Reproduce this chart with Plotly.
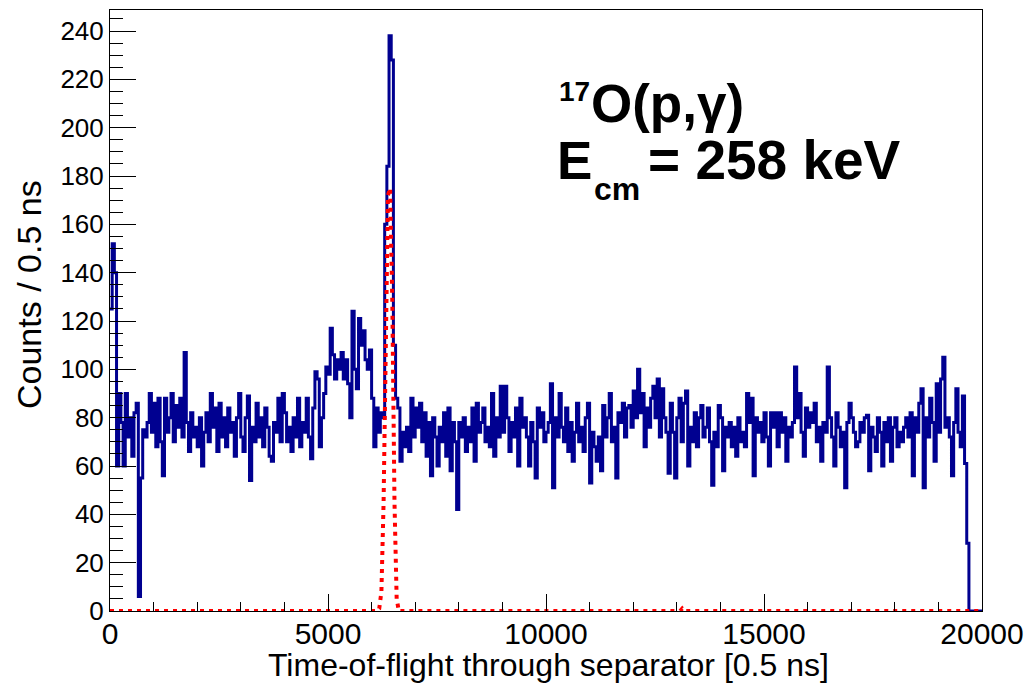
import plotly.graph_objects as go

# Histogram binning: 400 bins of width 50 over 0..20000 (units of 0.5 ns)
bin_width = 50
n_bins = 400

counts_a = [125, 152, 140, 60, 90, 78, 60, 90, 72, 80, 64, 82, 86, 6, 55, 75, 72, 78, 90, 74,
            86, 68, 88, 70, 56, 88, 74, 80, 90, 70, 85, 76, 88, 72, 107, 78, 66, 82, 72, 76,
            68, 80, 60, 74, 82, 70, 90, 76, 84, 66, 86, 72, 80, 68, 84, 74, 78, 64, 80, 90,
            72, 66, 80, 89, 54, 76, 70, 86, 72, 80, 68, 84, 76, 64, 62, 78, 74, 88, 70, 90,
            82, 70, 76, 66, 80, 72, 88, 68, 78, 74, 88, 72, 63, 84, 99, 96, 68, 80, 90, 101]
# bins 100-199
counts_b = [98, 117, 106, 96, 104, 100, 107, 96, 104, 94, 80, 124, 100, 92, 121, 110, 116, 104, 100, 108,
            88, 68, 84, 74, 82, 80, 160, 184, 238, 228, 110, 88, 84, 62, 74, 68, 76, 66, 88, 72,
            84, 76, 86, 70, 82, 64, 78, 56, 80, 72, 60, 76, 70, 82, 64, 84, 58, 78, 70, 42,
            78, 72, 80, 66, 76, 70, 84, 62, 86, 74, 78, 84, 70, 76, 68, 90, 64, 80, 72, 93,
            74, 93, 80, 66, 78, 72, 84, 60, 88, 76, 80, 72, 60, 78, 70, 55, 84, 76, 82, 70]
# bins 200-299
counts_c = [74, 78, 94, 51, 80, 72, 90, 76, 70, 84, 66, 78, 62, 74, 86, 70, 76, 66, 80, 86,
            53, 74, 68, 62, 72, 58, 85, 72, 80, 90, 70, 76, 55, 82, 78, 86, 72, 84, 85, 76,
            91, 80, 100, 82, 90, 68, 84, 76, 88, 93, 80, 96, 72, 92, 80, 74, 57, 86, 74, 55,
            80, 88, 70, 86, 91, 60, 76, 70, 82, 68, 80, 85, 72, 76, 84, 70, 52, 74, 68, 85,
            80, 58, 76, 72, 78, 68, 76, 64, 80, 70, 74, 68, 90, 78, 88, 56, 80, 74, 78, 70]
# bins 300-399
counts_d = [82, 72, 60, 82, 76, 82, 68, 82, 74, 80, 62, 76, 72, 78, 101, 80, 90, 74, 64, 84,
            76, 82, 78, 86, 70, 76, 62, 78, 74, 101, 80, 72, 60, 82, 76, 68, 74, 51, 78, 86,
            80, 74, 68, 70, 78, 74, 80, 81, 58, 76, 72, 66, 80, 74, 60, 78, 70, 80, 62, 76,
            80, 68, 74, 70, 76, 80, 72, 82, 56, 80, 74, 86, 92, 51, 80, 72, 88, 78, 62, 94,
            74, 96, 105, 76, 80, 72, 56, 78, 92, 74, 68, 89, 61, 28, 0, 0, 0, 0, 0, 0]

# Simulated peak (red dotted): non-zero bins only, zero elsewhere
sim_bins = [123, 124, 125, 126, 127, 128, 129, 130, 131, 262]
sim_counts = [1, 8, 45, 112, 172, 175, 128, 45, 5, 1]

# Axis ticks
x_ticks = [0, 5000, 10000, 15000, 20000]
y_ticks = list(range(0, 241, 20))

counts = counts_a + counts_b + counts_c + counts_d
edges = [i * bin_width for i in range(n_bins + 1)]
centers = [(i + 0.5) * bin_width for i in range(n_bins)]
sim = [0] * n_bins
for b, c in zip(sim_bins, sim_counts):
    sim[b] = c

fig = go.Figure()
fig.add_trace(go.Scatter(
    x=edges, y=counts + [counts[-1]], mode="lines", cliponaxis=False,
    line=dict(color="#000090", width=3, shape="hv"),
    hoverinfo="skip", showlegend=False))
fig.add_trace(go.Scatter(
    x=[0] + centers + [n_bins * bin_width], y=[0] + sim + [0], mode="lines", cliponaxis=False,
    line=dict(color="#ff0000", width=4, dash="4px,5px"),
    hoverinfo="skip", showlegend=False))

font_family = "Liberation Sans, Arial, sans-serif"
# The page body has an 8px margin, so the figure is offset by (8, 8) in the window.
fig.update_layout(
    width=1016, height=680,
    margin=dict(l=102, r=42, t=2, b=77),
    paper_bgcolor="white", plot_bgcolor="white",
    font=dict(family=font_family, color="black"),
    xaxis=dict(range=[0, 20000], tickvals=x_ticks, ticktext=[str(v) for v in x_ticks],
               ticks="inside", ticklen=17, tickwidth=1, tickcolor="black",
               minor=dict(ticks="inside", dtick=1000, ticklen=9, tickcolor="black"),
               showline=True, linecolor="black", linewidth=1, mirror=True,
               showgrid=False, zeroline=False, tickfont=dict(size=30),
               ticklabeloverflow="allow", automargin=False, ticklabelstandoff=-4),
    yaxis=dict(range=[0, 248.7], tickvals=y_ticks, ticktext=[str(v) for v in y_ticks],
               ticks="inside", ticklen=26, tickwidth=1, tickcolor="black",
               minor=dict(ticks="inside", dtick=5, ticklen=13, tickcolor="black"),
               showline=True, linecolor="black", linewidth=1, mirror=True,
               showgrid=False, zeroline=False, tickfont=dict(size=26),
               ticklabeloverflow="allow", automargin=False),
)

def px_x(p):
    return (p - 110) / 872.0

def px_y(p):
    return (611 - p) / 601.0

# axis titles
fig.add_annotation(text="Time-of-flight through separator [0.5 ns]", x=px_x(548), y=px_y(665),
                   xref="paper", yref="paper", xanchor="center", yanchor="middle",
                   showarrow=False, font=dict(family=font_family, size=32, color="black"))
fig.add_annotation(text="Counts / 0.5 ns", x=px_x(29), y=px_y(295), xref="paper", yref="paper",
                   xanchor="center", yanchor="middle", showarrow=False, textangle=-90,
                   font=dict(family=font_family, size=34, color="black"))

bold_family = "Liberation Sans, Arial, sans-serif"
fig.add_annotation(text="<b>17</b>", x=px_x(557), y=px_y(91), xref="paper", yref="paper",
                   xanchor="left", yanchor="middle", showarrow=False,
                   font=dict(family=bold_family, size=28, color="black"))
fig.add_annotation(text="<b>O(p,γ)</b>", x=px_x(589), y=px_y(104), xref="paper", yref="paper",
                   xanchor="left", yanchor="middle", showarrow=False,
                   font=dict(family=bold_family, size=53, color="black"))
fig.add_annotation(text="<b>E</b>", x=px_x(555), y=px_y(160), xref="paper", yref="paper",
                   xanchor="left", yanchor="middle", showarrow=False,
                   font=dict(family=bold_family, size=53, color="black"))
fig.add_annotation(text="<b>cm</b>", x=px_x(592), y=px_y(189), xref="paper", yref="paper",
                   xanchor="left", yanchor="middle", showarrow=False,
                   font=dict(family=bold_family, size=32, color="black"))
fig.add_annotation(text="<b>= 258 keV</b>", x=px_x(646), y=px_y(160), xref="paper", yref="paper",
                   xanchor="left", yanchor="middle", showarrow=False,
                   font=dict(family=bold_family, size=55, color="black"))

fig.write_html("out.html")
